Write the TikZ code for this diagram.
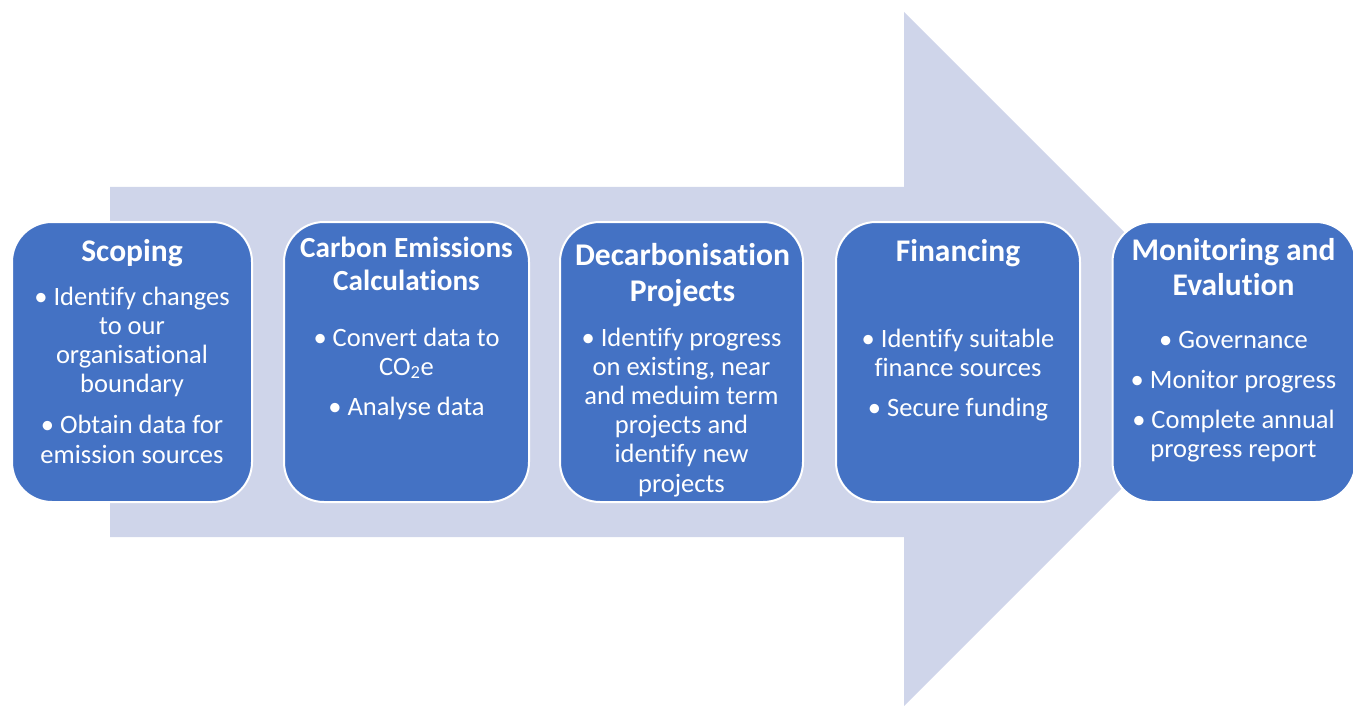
\documentclass[tikz,border=0pt]{standalone}
\usepackage{fontspec}
\setmainfont{Carlito}[Ligatures=NoCommon]
\definecolor{boxblue}{HTML}{4472C4}
\definecolor{arrowfill}{HTML}{CFD5EA}
\newcommand{\ttlbox}[3]{\parbox[t]{250pt}{\centering\fontsize{#1}{#2}\selectfont\bfseries #3}}
\newcommand{\bodybox}[1]{\parbox[t]{250pt}{\centering\fontsize{26.5}{29.2}\selectfont #1}}
\begin{document}
\begin{tikzpicture}[x=1pt,y=-1pt,
  stage/.style={draw=white, line width=2pt, fill=boxblue, rounded corners=40pt,
    minimum height=280pt, inner sep=0pt},
  txt/.style={anchor=base, inner sep=0pt, text=white}]
\useasboundingbox (0,0) rectangle (1353,706);
% big arrow
\fill[arrowfill] (110,187) -- (904,187) -- (904,12) -- (1251,359) -- (904,706)
  -- (904,537) -- (110,537) -- cycle;
% stages
\node[stage, minimum width=240pt] (s1) at (132,362) {};
\node[stage, minimum width=245pt] (s2) at (406.5,362) {};
\node[stage, minimum width=243pt] (s3) at (681.5,362) {};
\node[stage, minimum width=244pt] (s4) at (958,362) {};
\node[stage, minimum width=243pt] (s5) at (1234,362) {};
% texts
\node[txt] (t1) at (132,261) {\ttlbox{31.5}{35}{Scoping}};
\node[txt] (b1) at (132,305) {\bodybox{• Identify changes\\to our\\organisational\\boundary\\[12pt]• Obtain data for\\emission sources}};

\node[txt] (t2) at (406.5,257) {\ttlbox{29.2}{33}{Carbon Emissions\\Calculations}};
\node[txt] (b2) at (406.5,346) {\bodybox{• Convert data to\\CO\textsubscript{2}e\\[11pt]• Analyse data}};

\node[txt] (t3) at (682.5,265) {\ttlbox{31.6}{36}{Decarbonisation\\Projects}};
\node[txt] (b3) at (681.5,346) {\bodybox{• Identify progress\\on existing, near\\and meduim term\\projects and\\identify new\\projects}};

\node[txt] (t4) at (958,261) {\ttlbox{31.5}{35}{Financing}};
\node[txt] (b4) at (958,347) {\bodybox{• Identify suitable\\finance sources\\[11pt]• Secure funding}};

\node[txt] (t5) at (1233.5,260) {\ttlbox{31.5}{35}{Monitoring and\\Evalution}};
\node[txt] (b5) at (1233.5,348) {\bodybox{• Governance\\[11pt]• Monitor progress\\[11pt]• Complete annual\\progress report}};
\end{tikzpicture}
\end{document}
